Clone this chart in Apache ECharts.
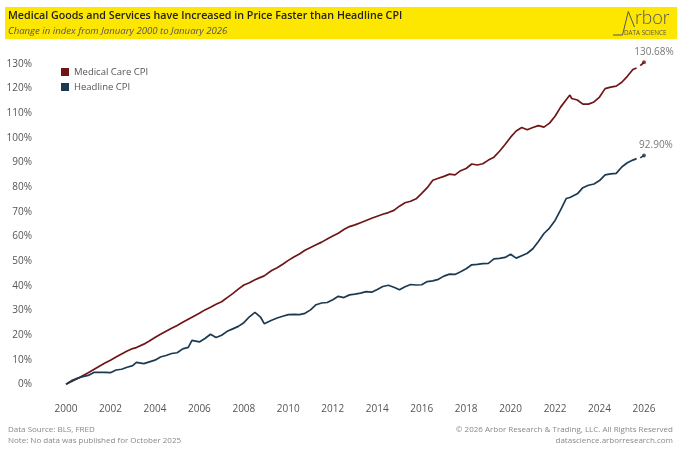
<!DOCTYPE html>
<html><head><meta charset="utf-8">
<script src="https://cdn.jsdelivr.net/npm/echarts@6/dist/echarts.min.js"></script>
<style>html,body{margin:0;padding:0;background:#fff}#c{width:680px;height:453px}</style>
</head><body><div id="c"></div>
<script>
// Month of each observation (YYYY-MM); Oct 2025 had no data
const dates = [
'2000-01','2000-04','2000-07','2000-10',
'2001-01','2001-04','2001-07','2001-10',
'2002-01','2002-04','2002-07','2002-10',
'2003-01','2003-03','2003-04','2003-07','2003-10',
'2004-01','2004-04','2004-07','2004-10',
'2005-01','2005-04','2005-07','2005-09','2005-10',
'2006-01','2006-04','2006-07','2006-10',
'2007-01','2007-04','2007-07','2007-10',
'2008-01','2008-04','2008-07','2008-10','2008-12',
'2009-01','2009-04','2009-07','2009-10',
'2010-01','2010-04','2010-07','2010-10',
'2011-01','2011-04','2011-07','2011-10',
'2012-01','2012-04','2012-07','2012-10',
'2013-01','2013-04','2013-07','2013-10',
'2014-01','2014-04','2014-07','2014-10',
'2015-01','2015-04','2015-07','2015-10',
'2016-01','2016-04','2016-07','2016-10',
'2017-01','2017-04','2017-07','2017-10',
'2018-01','2018-04','2018-07','2018-10',
'2019-01','2019-04','2019-07','2019-10',
'2020-01','2020-04','2020-05','2020-07','2020-10',
'2021-01','2021-04','2021-07','2021-10',
'2022-01','2022-04','2022-07','2022-09','2022-10',
'2023-01','2023-04','2023-07','2023-10',
'2024-01','2024-04','2024-07','2024-10',
'2025-01','2025-04','2025-07','2025-09','2025-10','2025-11','2025-12',
'2026-01'
];
// Change in index since January 2000, %
const medicalCare = [
0, 1.1, 2.3, 3.5,
4.7, 6.0, 7.3, 8.6,
9.8, 11.1, 12.3, 13.5,
14.5, 14.9, 15.2, 16.3, 17.6,
19.0, 20.3, 21.5, 22.7,
23.9, 25.2, 26.4, 27.2, 27.5,
28.8, 30.2, 31.3, 32.5,
33.5, 35.2, 36.8, 38.6,
40.3, 41.2, 42.4, 43.4, 44.0,
44.6, 46.2, 47.3, 48.7,
50.3, 51.7, 52.9, 54.4,
55.5, 56.6, 57.7, 59.0,
60.2, 61.3, 62.8, 64.0,
64.7, 65.6, 66.5, 67.4,
68.2, 69.0, 69.7, 70.6,
72.3, 73.7, 74.3, 75.3,
77.5, 79.8, 82.8, 83.6,
84.4, 85.3, 85.0, 86.7,
87.6, 89.4, 89.0, 89.5,
91.0, 92.2, 94.6, 97.3,
100.3, 102.8, 103.2, 104.2, 103.3,
104.2, 105.0, 104.4, 106.0,
108.8, 112.5, 115.5, 117.4, 116.0,
115.4, 113.7, 113.7, 114.6,
116.6, 120.0, 120.6, 121.0,
122.6, 125.0, 127.8, 128.4, null, 129.3, 129.8,
130.68
];
const headlineCPI = [
0, 1.5, 2.4, 3.1,
3.6, 4.8, 4.8, 4.8,
4.7, 5.8, 6.1, 6.9,
7.6, 8.9, 8.2, 8.4, 9.1,
9.8, 11.1, 11.7, 12.5,
12.8, 14.4, 15.0, 17.8, 17.6,
17.2, 18.6, 20.3, 19.0,
19.9, 21.5, 22.5, 23.5,
25.0, 27.4, 29.2, 27.3, 24.6,
25.1, 26.0, 26.9, 27.6,
28.3, 28.4, 28.3, 28.8,
30.2, 32.3, 33.0, 33.2,
34.3, 35.7, 35.2, 36.3,
36.6, 37.0, 37.6, 37.4,
38.5, 39.7, 40.2, 39.4,
38.4, 39.6, 40.5, 40.3,
40.4, 41.7, 42.0, 42.6,
43.9, 44.7, 44.6, 45.7,
46.9, 48.5, 48.7, 49.0,
49.1, 50.9, 51.1, 51.5,
52.8, 51.2, 50.8, 52.2, 53.2,
55.0, 58.0, 61.2, 63.4,
66.5, 70.8, 75.4, 75.8, 76.1,
77.3, 79.8, 80.8, 81.3,
82.7, 85.0, 85.4, 85.6,
88.2, 89.9, 91.0, 91.6, null, 91.9, 92.2,
92.90
];
const seriesNames = ['Medical Care CPI', 'Headline CPI'];
const yTicks = {min: 0, max: 130, step: 10};
const xTicks = {min: 2000, max: 2026, step: 2};

const toYear = d => { const [y, m] = d.split('-').map(Number); return y + (m - 1) / 12; };
const pairs = arr => dates.map((d, i) => [toYear(d), arr[i]]);
const lastPair = arr => { const i = dates.length - 1; return [toYear(dates[i]), arr[i]]; };

const RED = '#6e1616', BLUE = '#1b3a52';
const chart = echarts.init(document.getElementById('c'));
chart.setOption({
  animation: false,
  backgroundColor: '#ffffff',
  textStyle: {fontFamily: 'Open Sans, Noto Sans, sans-serif'},
  grid: {left: 66, right: 36, top: 64, bottom: 68.7},
  legend: {
    data: seriesNames, orient: 'vertical', left: 56, top: 62, itemGap: 5,
    icon: 'rect', itemWidth: 8, itemHeight: 8,
    textStyle: {color: '#555', fontSize: 9.5, fontFamily: 'Open Sans, sans-serif'}
  },
  xAxis: {
    type: 'value', min: xTicks.min, max: xTicks.max, interval: xTicks.step,
    axisLine: {show: false}, axisTick: {show: false}, splitLine: {show: false},
    axisLabel: {margin: 20, color: '#555', fontSize: 10, formatter: v => String(v)}
  },
  yAxis: {
    type: 'value', min: yTicks.min, max: yTicks.max, interval: yTicks.step,
    axisLine: {show: false}, axisTick: {show: false}, splitLine: {show: false},
    axisLabel: {margin: 34, color: '#555', fontSize: 10, formatter: '{value}%'}
  },
  series: [
    {name: seriesNames[0], type: 'line', data: pairs(medicalCare), showSymbol: false, clip: false,
     connectNulls: false, lineStyle: {color: RED, width: 1.7}, itemStyle: {color: RED}},
    {name: seriesNames[1], type: 'line', data: pairs(headlineCPI), showSymbol: false, clip: false,
     connectNulls: false, lineStyle: {color: BLUE, width: 1.7}, itemStyle: {color: BLUE}},
    {type: 'scatter', data: [lastPair(medicalCare)], symbolSize: 4, clip: false,
     itemStyle: {color: RED},
     label: {show: true, position: 'top', distance: 3, offset: [10, 0], color: '#555', fontSize: 10,
             formatter: p => p.value[1].toFixed(2) + '%'}},
    {type: 'scatter', data: [lastPair(headlineCPI)], symbolSize: 4, clip: false,
     itemStyle: {color: BLUE},
     label: {show: true, position: 'top', distance: 3, offset: [12, 0], color: '#555', fontSize: 10,
             formatter: p => p.value[1].toFixed(2) + '%'}}
  ],
  graphic: [
    {type: 'rect', shape: {x: 5, y: 7, width: 672, height: 32}, style: {fill: '#fde700'}, z: -1},
    {type: 'text', x: 8, y: 10, style: {text: 'Medical Goods and Services have Increased in Price Faster than Headline CPI',
      fill: '#222', font: '600 10.7px "Open Sans", sans-serif'}},
    {type: 'text', x: 8, y: 26, style: {text: 'Change in index from January 2000 to January 2026',
      fill: '#555', font: 'italic 9.6px "Open Sans", sans-serif'}},
    {type: 'polyline', shape: {points: [[613, 35], [622.5, 35], [628.3, 11.5], [634.5, 27]]},
      style: {stroke: '#555', lineWidth: 1, fill: null}},
    {type: 'text', x: 635, y: 8, style: {text: 'rbor', fill: '#555', font: '300 19px Lato, sans-serif'}},
    {type: 'text', x: 624, y: 30, style: {text: 'DATA SCIENCE', fill: '#555', font: '6.3px "Open Sans", sans-serif'}},
    {type: 'text', x: 8, y: 426, style: {text: 'Data Source: BLS, FRED', fill: '#888', font: '8px "Open Sans", sans-serif'}},
    {type: 'text', x: 8, y: 437, style: {text: 'Note: No data was published for October 2025', fill: '#888', font: '8px "Open Sans", sans-serif'}},
    {type: 'text', x: 673, y: 426, style: {text: '\u00A9 2026 Arbor Research & Trading, LLC. All Rights Reserved', fill: '#888', align: 'right', font: '8px "Open Sans", sans-serif'}},
    {type: 'text', x: 673, y: 437, style: {text: 'datascience.arborresearch.com', fill: '#888', align: 'right', font: '8px "Open Sans", sans-serif'}}
  ]
});
</script></body></html>
